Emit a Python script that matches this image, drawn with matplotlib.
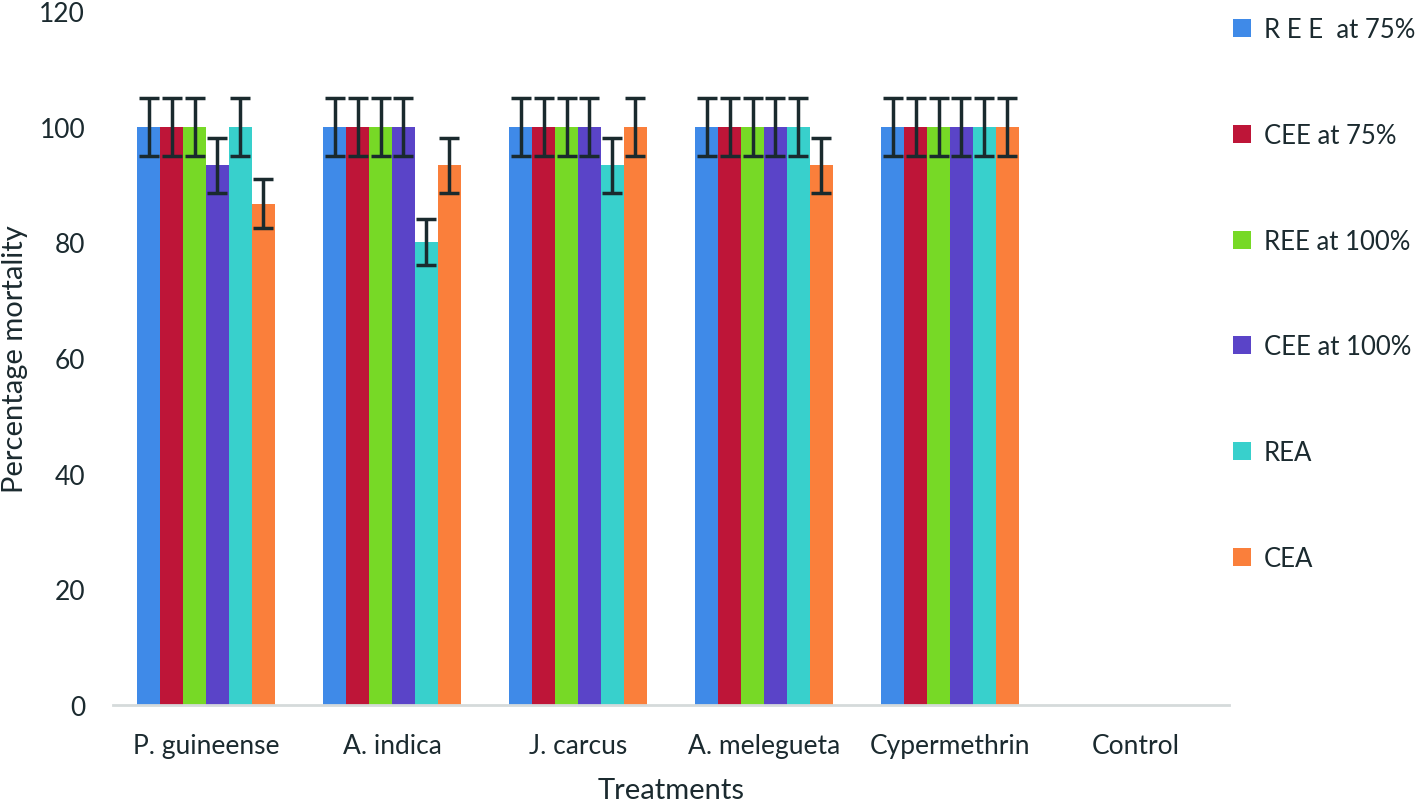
import matplotlib.pyplot as plt
import numpy as np

plt.rcParams['font.family'] = ['Lato', 'DejaVu Sans']

treatments = ['P. guineense', 'A. indica', 'J. carcus', 'A. melegueta', 'Cypermethrin', 'Control']
series = ['R E E  at 75%', 'CEE at 75%', 'REE at 100%', 'CEE at 100%', 'REA', 'CEA']
colors = ['#3F8AE8', '#BE1538', '#77D926', '#5A44C8', '#38D0CC', '#FA7F3B']

ree75 = [100, 100, 100, 100, 100, 0]
cee75 = [100, 100, 100, 100, 100, 0]
ree100 = [100, 100, 100, 100, 100, 0]
cee100 = [93.3, 100, 100, 100, 100, 0]
rea = [100, 80, 93.3, 100, 100, 0]
cea = [86.7, 93.3, 100, 93.3, 100, 0]

ree75_err = [5, 5, 5, 5, 5, 0]
cee75_err = [5, 5, 5, 5, 5, 0]
ree100_err = [5, 5, 5, 5, 5, 0]
cee100_err = [4.7, 5, 5, 5, 5, 0]
rea_err = [5, 4, 4.7, 5, 5, 0]
cea_err = [4.3, 4.7, 5, 4.7, 5, 0]

values = [ree75, cee75, ree100, cee100, rea, cea]
errors = [ree75_err, cee75_err, ree100_err, cee100_err, rea_err, cea_err]

text_color = '#1B2A2F'

fig = plt.figure(figsize=(14.18, 8.03), dpi=100)
ax = fig.add_axes([0.0797, 0.1208, 0.787, 0.8642])

x = np.arange(len(treatments))
w = 0.123
for i in range(len(series)):
    pos = x + (i - 2.5) * w
    vals = np.array(values[i])
    errs = np.array(errors[i])
    ax.bar(pos, vals, width=w, color=colors[i], label=series[i])
    mask = vals > 0
    ax.errorbar(pos[mask], vals[mask], yerr=errs[mask], fmt='none',
                ecolor='#1A2A2E', elinewidth=2.5, capsize=7, capthick=2.5)

ax.set_xlim(-0.5, len(treatments) - 0.5)
ax.set_ylim(0, 120)
ax.set_yticks(range(0, 121, 20))
ax.set_xticks(x)
ax.set_xticklabels(treatments)
ax.tick_params(axis='both', length=0, labelsize=19, colors=text_color)
ax.tick_params(axis='y', pad=20)
ax.tick_params(axis='x', pad=20)

for s in ['top', 'right', 'left']:
    ax.spines[s].set_visible(False)
ax.spines['bottom'].set_color('#D5DADB')
ax.spines['bottom'].set_linewidth(2)

ax.set_ylabel('Percentage mortality', fontsize=21, color=text_color, labelpad=8)
ax.set_xlabel('Treatments', fontsize=21, color=text_color, labelpad=14)

fig.legend(loc='upper left', bbox_to_anchor=(0.8695, 0.978), frameon=False,
           fontsize=18.5, labelspacing=3.15, handlelength=0.7, handleheight=0.7,
           handletextpad=0.5, borderpad=0, borderaxespad=0, labelcolor=text_color)

fig.savefig('out.png', dpi=100)
